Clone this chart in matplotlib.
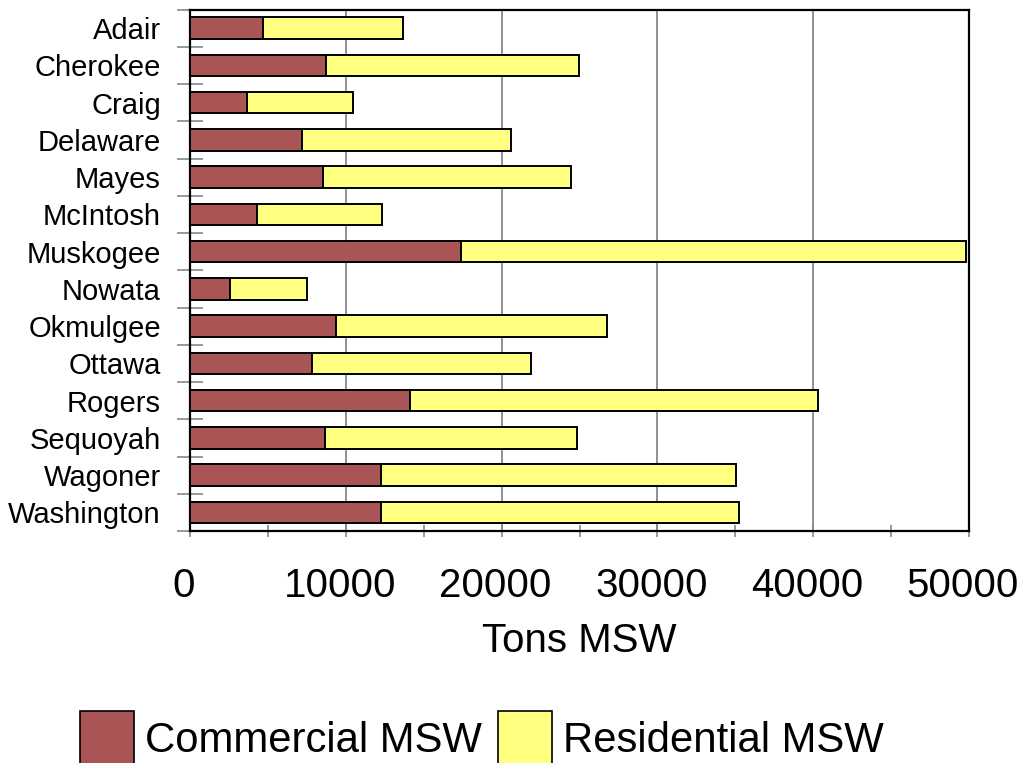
import matplotlib
matplotlib.use("Agg")
import matplotlib.pyplot as plt
import matplotlib.transforms as mtransforms
from matplotlib.patches import Patch
from matplotlib.ticker import MultipleLocator, FixedLocator
import numpy as np

plt.rcParams['font.family'] = ['Liberation Sans', 'DejaVu Sans']

counties = ["Adair", "Cherokee", "Craig", "Delaware", "Mayes", "McIntosh",
            "Muskogee", "Nowata", "Okmulgee", "Ottawa", "Rogers", "Sequoyah",
            "Wagoner", "Washington"]
commercial = [4700, 8700, 3650, 7180, 8530, 4300, 17410, 2560, 9340, 7840,
              14100, 8680, 12240, 12290]
total = [13680, 24940, 10490, 20600, 24440, 12330, 49790, 7480, 26770, 21900,
         40320, 24830, 35060, 35210]
residential = [t - c for t, c in zip(total, commercial)]
x_ticks = [0, 10000, 20000, 30000, 40000, 50000]

fig = plt.figure(figsize=(10.26, 7.63), dpi=100)
ax = fig.add_axes([190 / 1026, 1 - 531 / 763, 779 / 1026, (531 - 9.5) / 763])

y = np.arange(len(counties))
bar_h = 0.58
ax.barh(y, commercial, height=bar_h, color="#AA5555", edgecolor="black",
        linewidth=1.4, zorder=3, label="Commercial MSW")
ax.barh(y, residential, left=commercial, height=bar_h, color="#FFFF80",
        edgecolor="black", linewidth=1.4, zorder=3, label="Residential MSW")

ax.set_xlim(0, 50000)
ax.set_ylim(len(counties) - 0.5, -0.5)

ax.xaxis.set_major_locator(FixedLocator(x_ticks))
ax.xaxis.set_minor_locator(MultipleLocator(5000))
ax.set_xticklabels([str(v) for v in x_ticks])
ax.tick_params(axis="x", which="both", direction="inout", length=8,
               width=1.2, color="#888888", labelsize=29, pad=22)
for lbl in ax.get_xticklabels():
    lbl.set_transform(lbl.get_transform() +
                      mtransforms.ScaledTranslation(-6 / 100, 0, fig.dpi_scale_trans))

ax.set_yticks(y)
ax.set_yticklabels(counties)
ax.yaxis.set_minor_locator(FixedLocator(np.arange(-0.5, len(counties), 1.0)))
ax.tick_params(axis="y", which="major", length=0, labelsize=21, pad=21)
ax.tick_params(axis="y", which="minor", direction="inout", length=19,
               width=1.2, color="#888888")

ax.grid(axis="x", which="major", color="#888888", linewidth=1.3, zorder=0)
ax.set_axisbelow(True)
for s in ax.spines.values():
    s.set_color("black")
    s.set_linewidth(1.6)

ax.set_xlabel("Tons MSW", fontsize=29, labelpad=12)

handles = [Patch(facecolor="#AA5555", edgecolor="black", linewidth=1.2),
           Patch(facecolor="#FFFF80", edgecolor="black", linewidth=1.2)]
fig.legend(handles, ["Commercial MSW", "Residential MSW"], loc="upper left",
           bbox_to_anchor=(80 / 1026, 1 - 711 / 763), ncol=2, frameon=False,
           fontsize=30.2, handlelength=1.28, handleheight=1.6,
           handletextpad=0.26, columnspacing=0.4, borderpad=0,
           borderaxespad=0)

fig.savefig("out.png", dpi=100)
